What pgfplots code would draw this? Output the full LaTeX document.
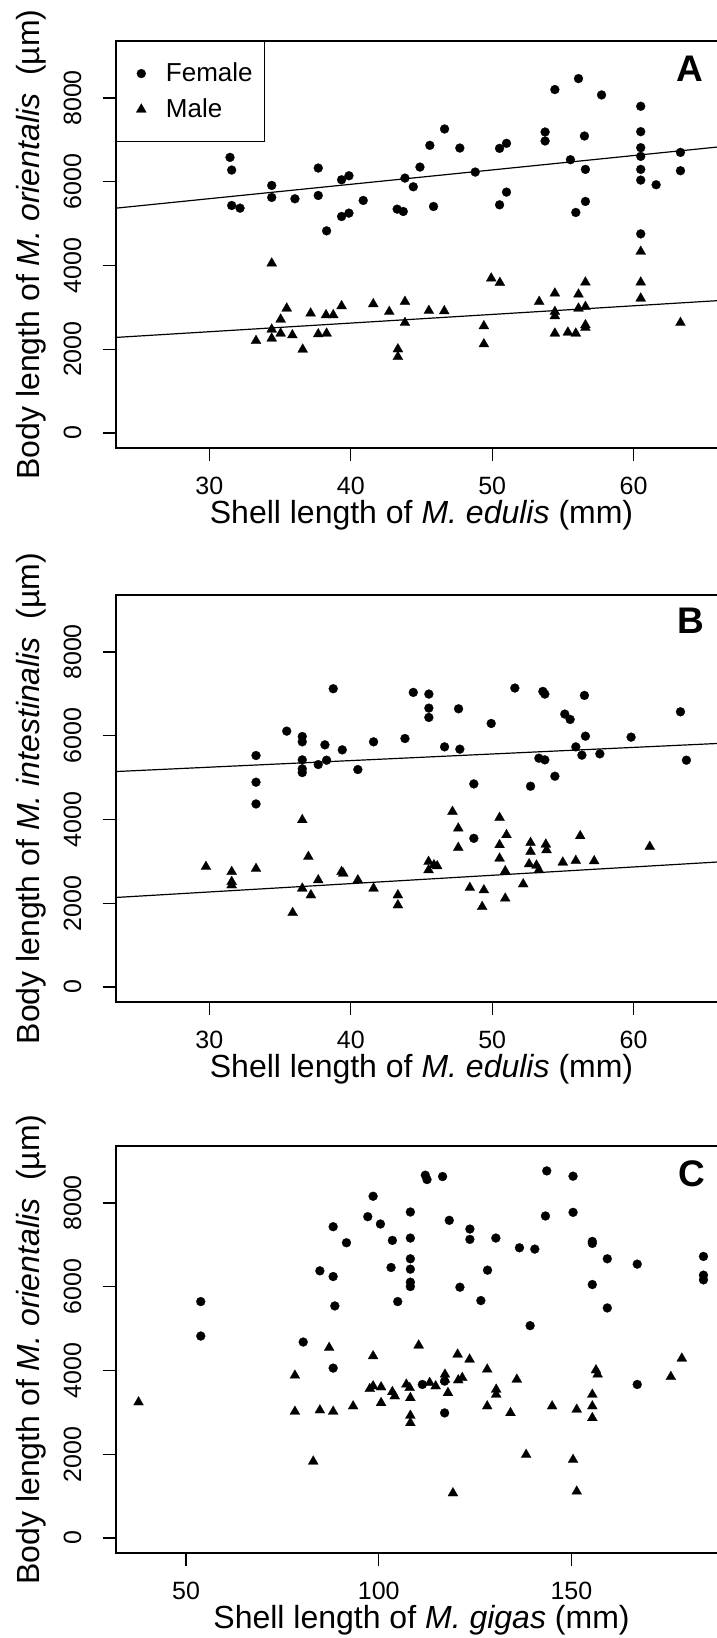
\documentclass[border=0pt]{standalone}
\usepackage{pgfplots}
\pgfplotsset{compat=1.18}
\usepackage{fontspec}
\setmainfont{Liberation Sans}

% one frame = 611 x 407 px of the reference, at 0.5pt per px
\pgfplotsset{
  panel/.style={
    scale only axis, width=305.5pt, height=203.5pt,
    ymin=-360, ymax=9360,
    ytick={0,2000,4000,6000,8000},
    tick align=outside, tick pos=left,
    major tick length=6.65pt,
    axis line style={line width=0.65pt},
    every tick/.append style={line width=0.65pt, black},
    tick label style={font=\fontsize{12.5}{15}\selectfont},
    /pgf/number format/assume math mode=true,
    /pgf/number format/set thousands separator={},
    yticklabel style={rotate=90, anchor=south, inner sep=0pt},
    xticklabel style={anchor=north, inner sep=0pt},
    yticklabel shift=10.5pt,
    xticklabel shift=7.85pt,
    every axis x label/.style={at={(axis description cs:0.5,-0.1855)}, anchor=base,
      font=\fontsize{16}{19}\selectfont},
    every axis y label/.style={at={(axis description cs:-0.1244,0.5)}, rotate=90, anchor=base,
      font=\fontsize{16}{19}\selectfont},
  },
  fem/.style={only marks, mark=*, mark size=2.25pt,
    mark options={fill=black, draw=black, line width=0.1pt}},
  mal/.style={only marks, mark=triangle*, mark size=2.9pt,
    mark options={fill=black, draw=black, line width=0.1pt}},
  fit/.style={black, line width=0.6pt, forget plot},
}
\tikzset{tag/.style={anchor=base east, font=\bfseries\fontsize{18.5}{22}\selectfont}}

\begin{document}
\begin{tikzpicture}

% ---- A ----
\begin{axis}[panel, name=A, at={(0pt,0pt)}, anchor=north west,
    xmin=23.4, xmax=66.6, xtick={30,40,50,60},
    xlabel={Shell length of \textit{M. edulis} (mm)},
    ylabel={Body length of \textit{M. orientalis}~~(µm)},
    legend style={at={(0,1)}, anchor=north west, draw=black, line width=0.65pt,
      font=\fontsize{13}{15}\selectfont, inner xsep=4pt, inner ysep=8.5pt,
      row sep=3pt, column sep=5pt, cells={anchor=west}},
    legend image code/.code={\path (0pt,0pt) (13pt,0pt);
      \draw[#1] plot coordinates {(8pt,0pt)};},
]
\addplot[fem] table {
x y
31.46 6581
31.58 6278
31.58 5432
32.17 5368
34.41 5911
34.41 5624
36.05 5592
37.70 6326
37.70 5671
38.29 4826
39.35 6046
39.87 6142
39.35 5169
39.87 5249
40.88 5552
43.83 6086
44.42 5879
44.89 6349
43.28 5344
43.71 5289
45.59 6868
46.63 7259
47.71 6804
45.85 5408
48.80 6230
50.52 6796
51.01 6916
50.52 5448
51.01 5751
53.74 7187
53.74 6972
54.43 8200
56.10 8463
57.73 8072
55.53 6525
56.52 7091
56.59 6294
56.59 5528
55.91 5265
60.50 7801
60.50 7195
60.50 6812
60.50 6605
60.50 6294
60.50 6038
60.50 4754
61.59 5927
63.31 6700
63.31 6262
};
\addlegendentry{Female}
\addplot[mal] table {
x y
34.41 4052
33.30 2201
34.41 2473
34.41 2257
35.04 2377
35.04 2712
35.47 2975
35.87 2337
36.60 1994
37.16 2856
37.70 2361
38.29 2377
38.25 2816
38.76 2816
39.35 3031
41.59 3079
42.72 2895
43.83 3135
43.83 2632
43.33 2002
43.33 1819
45.52 2919
46.61 2911
49.41 2553
49.41 2122
49.93 3693
50.54 3589
53.32 3135
54.43 3334
54.43 2895
54.43 2792
54.43 2377
55.35 2401
55.91 2377
56.10 3310
56.10 2975
56.59 3597
56.59 3015
56.59 2577
56.59 2513
60.50 4331
60.50 3597
60.50 3214
63.31 2632
};
\addlegendentry{Male}
\addplot[fit] coordinates {(23.4,5368) (66.6,6851)};
\addplot[fit] coordinates {(23.4,2281) (66.6,3173)};
\node[tag] at (rel axis cs:0.973,0.9) {A};
\end{axis}

% ---- B ----
\begin{axis}[panel, name=B, at={(0pt,-277pt)}, anchor=north west,
    xmin=23.4, xmax=66.6, xtick={30,40,50,60},
    xlabel={Shell length of \textit{M. edulis} (mm)},
    ylabel={Body length of \textit{M. intestinalis}~~(µm)},
]
\addplot[fem] table {
x y
33.30 5527
33.30 4889
33.30 4370
35.47 6109
36.57 5981
36.57 5854
36.57 5423
36.57 5208
36.57 5120
37.70 5311
38.17 5782
38.29 5415
38.76 7122
39.40 5662
40.50 5192
41.61 5854
43.83 5933
44.42 7034
45.52 6994
45.52 6659
45.52 6436
46.63 5734
47.62 6643
47.71 5678
48.70 4849
48.70 3549
49.93 6292
51.60 7138
52.71 4793
53.30 5463
53.72 5423
53.58 7058
53.72 6994
54.43 5032
55.13 6516
55.51 6388
55.91 5734
56.34 5535
56.59 5989
56.52 6962
57.61 5567
59.82 5965
63.31 6571
63.73 5415
};
\addplot[mal] table {
x y
29.76 2871
31.58 2751
31.58 2512
31.58 2432
33.30 2823
35.89 1770
36.57 3988
36.57 2353
37.00 3110
37.18 2193
37.70 2552
39.35 2751
39.47 2711
40.50 2552
41.61 2353
43.33 2193
43.33 1954
45.50 2991
45.50 2791
45.88 2911
46.11 2887
47.19 4187
47.60 3788
47.60 3326
48.42 2369
49.29 1914
49.41 2313
50.52 4043
51.01 3629
50.52 3390
50.52 3070
50.92 2767
50.92 2113
52.19 2456
52.71 3445
52.71 3230
52.61 2935
53.13 2903
53.30 2791
53.79 3405
53.84 3270
54.99 2975
55.91 3015
56.22 3605
57.21 3007
61.14 3350
};
\addplot[fit] coordinates {(23.4,5144) (66.6,5825)};
\addplot[fit] coordinates {(23.4,2137) (66.6,2997)};
\node[tag] at (rel axis cs:0.975,0.906) {B};
\end{axis}

% ---- C ----
\begin{axis}[panel, name=C, at={(0pt,-552.5pt)}, anchor=north west,
    xmin=31.8, xmax=190.4, xtick={50,100,150},
    xlabel={Shell length of \textit{M. gigas} (mm)},
    ylabel={Body length of \textit{M. orientalis}~~(µm)},
]
\addplot[fem] table {
x y
53.80 5645
53.80 4822
80.40 4679
84.72 6379
88.17 7433
88.17 6243
88.60 5541
88.17 4056
91.62 7050
98.54 8160
97.15 7673
100.44 7497
103.54 7106
103.20 6459
104.93 5645
108.21 7784
108.21 7162
108.21 6667
108.21 6419
108.21 6108
108.21 6004
112.09 8663
112.53 8559
116.58 8631
118.31 7585
121.07 5988
123.66 7377
123.66 7130
126.51 5669
128.24 6395
130.40 7162
136.53 6930
140.50 6898
139.30 5070
143.61 8766
143.27 7689
150.44 8639
150.44 7776
155.44 7082
155.44 7034
155.44 6052
159.33 6667
159.33 5493
167.10 6539
167.10 3665
184.29 6723
184.29 6275
184.29 6164
117.10 2986
111.32 3665
117.10 3745
};
\addplot[mal] table {
x y
37.65 3241
78.24 3880
78.24 3018
83.00 1828
84.72 3050
87.13 4543
88.17 3018
93.35 3146
98.54 4343
110.37 4599
97.67 3561
98.54 3625
100.61 3601
100.61 3226
103.54 3489
104.15 3385
107.17 3665
108.03 3585
108.21 3345
108.21 2922
108.21 2746
113.22 3705
114.77 3625
117.19 3904
117.19 3784
117.97 3465
119.26 1070
120.47 4383
120.64 3768
121.68 3824
123.58 4263
128.16 4024
128.16 3146
130.49 3545
130.49 3425
134.20 2986
135.84 3784
138.26 1988
145.00 3146
150.44 1868
151.39 1110
151.39 3066
155.44 3425
155.44 3146
155.44 2866
156.39 4008
156.82 3904
175.82 3848
178.67 4287
};
\node[tag] at (rel axis cs:0.976,0.9) {C};
\end{axis}

% the reference is cut just left of the right frame line
\pgfresetboundingbox
\path[use as bounding box] (-58pt,20.5pt) rectangle (300.5pt,-798.5pt);
\end{tikzpicture}
\end{document}
